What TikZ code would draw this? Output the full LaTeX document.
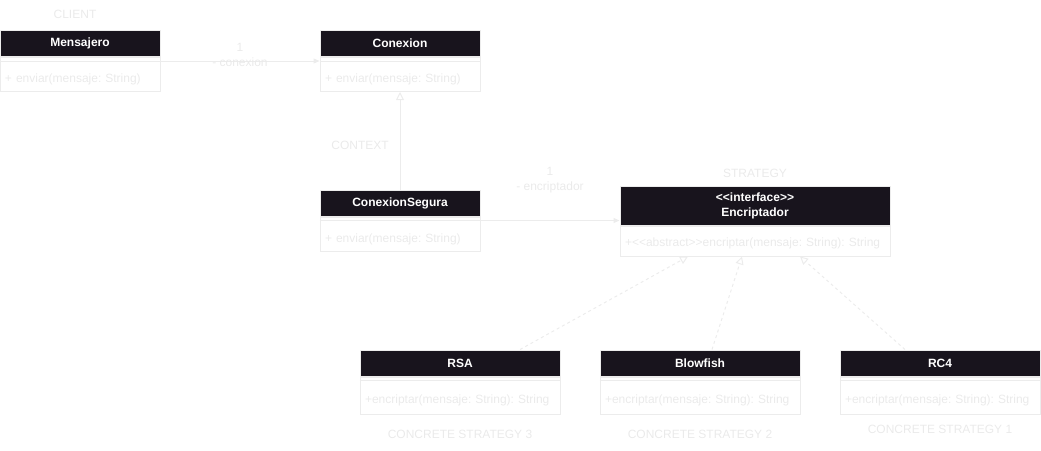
\documentclass[tikz,border=0pt]{standalone}
\usepackage{fontspec}
\setmainfont{Liberation Sans}[Ligatures=TeXOff]
\usetikzlibrary{positioning,arrows.meta}
\definecolor{hdrfill}{RGB}{24,20,29}
\definecolor{linegray}{RGB}{236,236,236}
\definecolor{txtgray}{RGB}{234,234,234}
\frenchspacing

\begin{document}
\begin{tikzpicture}[x=1pt,y=-1pt,line width=1pt,
    every node/.style={font=\fontsize{12pt}{15pt}\selectfont},
    hdr/.style={draw=linegray,fill=hdrfill,text=white,font=\fontsize{12pt}{15pt}\selectfont\bfseries,
                minimum height=26pt,inner sep=0pt,align=center},
    cbody/.style={draw=linegray,text=txtgray,align=left,inner xsep=5pt,inner ysep=0pt,
                  minimum height=34pt,text height=18pt,text depth=2pt},
    sep/.style={draw=linegray},
    tag/.style={text=txtgray,align=center},
    assoc/.style={draw=linegray,-{Triangle[length=6pt,width=5pt]}},
    inh/.style={draw=linegray,-{Triangle[open,length=8pt,width=8pt]}},
    real/.style={inh,dash pattern=on 3pt off 3pt}]
    \useasboundingbox (0,0) rectangle (1041,450);
    \node[hdr,minimum width=160pt] (mensH) at (80,43.5) {Mensajero};
    \node[cbody,text width=150pt,below=0pt of mensH] (mensB) {+ enviar(mensaje: String)};
    \node[hdr,minimum width=160pt] (conH) at (400,43.5) {Conexion};
    \node[cbody,text width=150pt,below=0pt of conH] (conB) {+ enviar(mensaje: String)};
    \node[hdr,minimum width=160pt] (segH) at (400,203) {ConexionSegura};
    \node[cbody,text width=150pt,below=0pt of segH] (segB) {+ enviar(mensaje: String)};
    \node[hdr,minimum width=270pt,minimum height=39pt] (encH) at (755,205.5) {<<interface>>\\Encriptador};
    \node[cbody,text width=260pt,minimum height=30pt,text height=12pt,below=0pt of encH] (encB)
        {+<<abstract>>encriptar(mensaje: String): String};
    \node[hdr,minimum width=200pt] (rsaH) at (460,363) {RSA};
    \node[cbody,text width=190pt,minimum height=37pt,below=0pt of rsaH] (rsaB) {+encriptar(mensaje: String): String};
    \node[hdr,minimum width=200pt] (blowH) at (700,363) {Blowfish};
    \node[cbody,text width=190pt,minimum height=37pt,below=0pt of blowH] (blowB) {+encriptar(mensaje: String): String};
    \node[hdr,minimum width=200pt] (rcH) at (940,363) {RC4};
    \node[cbody,text width=190pt,minimum height=37pt,below=0pt of rcH] (rcB) {+encriptar(mensaje: String): String};
    \draw[sep] ([yshift=-4pt]mensB.north west) -- ([yshift=-4pt]mensB.north east);
    \draw[sep] ([yshift=-4pt]conB.north west) -- ([yshift=-4pt]conB.north east);
    \draw[sep] ([yshift=-4pt]segB.north west) -- ([yshift=-4pt]segB.north east);
    \draw[sep] ([yshift=-4pt]rsaB.north west) -- ([yshift=-4pt]rsaB.north east);
    \draw[sep] ([yshift=-4pt]blowB.north west) -- ([yshift=-4pt]blowB.north east);
    \draw[sep] ([yshift=-4pt]rcB.north west) -- ([yshift=-4pt]rcB.north east);
    \node[tag] (client) at (75,14) {CLIENT};
    \node[tag] (context) at (360,145) {CONTEXT};
    \node[tag] (strategy) at (755,173) {STRATEGY};
    \node[tag] (cs3) at (460,434) {CONCRETE STRATEGY 3};
    \node[tag] (cs2) at (700,434) {CONCRETE STRATEGY 2};
    \node[tag] (cs1) at (940,429) {CONCRETE STRATEGY 1};
    \coordinate (segP) at ([yshift=-4pt]segB.north east);
    \draw[assoc] ([yshift=-4pt]mensB.north east) -- node[tag,yshift=6.5pt] {1\\- conexion} ([yshift=-4pt]conB.north west);
    \draw[assoc] (segP) -- node[tag,yshift=40pt] {1\\- encriptador} (segP -| encH.west);
    \draw[inh] (segH.north) -- (conB.south);
    \draw[real] ([xshift=60pt]rsaH.north) -- ([xshift=-67pt]encB.south);
    \draw[real] ([xshift=12pt]blowH.north) -- ([xshift=-13pt]encB.south);
    \draw[real] ([xshift=-35pt]rcH.north) -- ([xshift=45pt]encB.south);
\end{tikzpicture}
\end{document}
